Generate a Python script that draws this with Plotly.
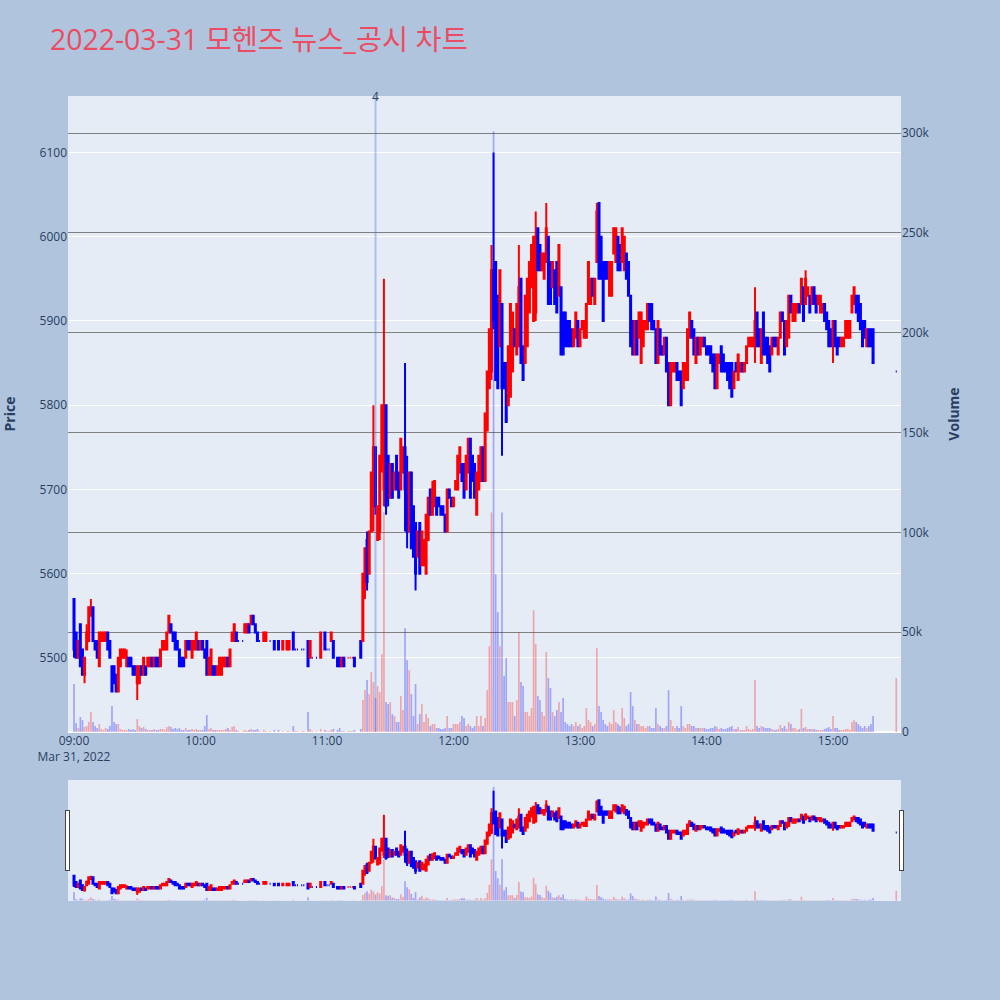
import plotly.graph_objects as go
from plotly.subplots import make_subplots

DATE = "2022-03-31"
TITLE = "2022-03-31 모헨즈 뉴스_공시 차트"

times = """
09:00 09:01 09:02 09:03 09:04 09:05 09:06 09:07 09:08 09:09
09:10 09:11 09:12 09:13 09:14 09:15 09:16 09:17 09:18 09:19
09:20 09:21 09:22 09:23 09:24 09:25 09:26 09:27 09:28 09:29
09:30 09:31 09:32 09:33 09:34 09:35 09:36 09:37 09:38 09:39
09:40 09:41 09:42 09:43 09:44 09:45 09:46 09:47 09:48 09:49
09:50 09:51 09:52 09:53 09:54 09:55 09:56 09:57 09:58 09:59
10:00 10:01 10:02 10:03 10:04 10:05 10:06 10:07 10:08 10:09
10:10 10:11 10:12 10:13 10:14 10:15 10:16 10:17 10:18
10:20 10:21 10:22 10:23 10:24 10:25 10:26 10:27 10:28 10:30 10:31 10:33 10:35
10:37 10:39 10:41 10:42 10:44 10:45 10:46 10:48 10:49 10:51
10:52 10:53 10:55 10:57 10:59 11:00 11:01 11:02 11:03 11:05
11:06 11:07 11:08 11:10 11:11 11:12 11:13 11:16
11:17 11:18 11:19 11:20 11:21 11:22 11:23 11:24 11:25 11:26
11:27 11:28 11:29 11:30 11:31 11:32 11:33 11:34 11:35 11:36
11:37 11:38 11:39 11:40 11:41 11:42 11:43 11:44 11:45 11:46
11:47 11:48 11:49 11:50 11:51 11:52 11:53 11:54 11:55 11:56
11:57 11:58 11:59 12:00 12:01 12:02 12:03 12:04 12:05 12:06
12:07 12:08 12:09 12:10 12:11 12:12 12:13 12:14 12:15 12:16
12:17 12:18 12:19 12:20 12:21 12:22 12:23 12:24 12:25 12:26
12:27 12:28 12:29 12:30 12:31 12:32 12:33 12:34 12:35 12:36
12:37 12:38 12:39 12:40 12:41 12:42 12:43 12:44 12:45 12:46
12:47 12:48 12:49 12:50 12:51 12:52 12:53 12:54 12:55 12:56
12:57 12:58 12:59 13:00 13:01 13:02 13:03 13:04 13:05 13:06
13:07 13:08 13:09 13:10 13:11 13:12 13:13 13:14 13:15 13:16
13:17 13:18 13:19 13:20 13:21 13:22 13:23 13:24 13:25 13:26
13:27 13:28 13:29 13:30 13:31 13:32 13:33 13:34 13:35 13:36
13:37 13:38 13:39 13:40 13:41 13:42 13:43 13:44 13:45 13:46
13:47 13:48 13:49 13:50 13:51 13:52 13:53 13:54 13:55 13:56
13:57 13:58 13:59 14:00 14:01 14:02 14:03 14:04 14:05 14:06
14:07 14:08 14:09 14:10 14:11 14:12 14:13 14:14 14:15 14:16
14:17 14:18 14:19 14:20 14:21 14:22 14:23 14:24 14:25 14:26
14:27 14:28 14:29 14:30 14:31 14:32 14:33 14:34 14:35 14:36
14:37 14:38 14:39 14:40 14:41 14:42 14:43 14:44 14:45 14:46
14:47 14:48 14:49 14:50 14:51 14:52 14:53 14:54 14:55 14:56
14:57 14:58 14:59 15:00 15:01 15:02 15:03 15:04 15:05 15:06
15:07 15:08 15:09 15:10 15:11 15:12 15:13 15:14 15:15 15:16
15:17 15:18 15:19 15:30
""".split()

opens = [
    5570, 5530, 5500, 5540, 5510, 5480, 5510, 5520, 5550, 5560,
    5520, 5520, 5490, 5520, 5520, 5520, 5530, 5520, 5490, 5490,
    5480, 5460, 5490, 5500, 5500, 5490, 5500, 5500, 5490, 5490,
    5470, 5470, 5490, 5480, 5490, 5490, 5490, 5500, 5490, 5500,
    5500, 5490, 5510, 5510, 5510, 5530, 5540, 5530, 5530, 5520,
    5510, 5500, 5500, 5500, 5520, 5520, 5500, 5510, 5510, 5520,
    5510, 5520, 5510, 5520, 5480, 5480, 5490, 5490, 5480, 5480,
    5480, 5490, 5490, 5500, 5490, 5520, 5520, 5530, 5520,
    5520, 5530, 5530, 5540, 5540, 5550, 5540, 5530, 5520, 5520, 5520, 5520, 5520,
    5520, 5510, 5510, 5510, 5530, 5510, 5510, 5510, 5510, 5520,
    5500, 5500, 5500, 5500, 5530, 5510, 5510, 5520, 5520, 5500,
    5500, 5490, 5500, 5500, 5500, 5500, 5500, 5520,
    5520, 5590, 5640, 5600, 5650, 5680, 5750, 5640, 5650, 5730,
    5700, 5800, 5740, 5690, 5730, 5700, 5740, 5720, 5700, 5720,
    5750, 5700, 5650, 5720, 5680, 5660, 5620, 5660, 5610, 5610,
    5600, 5640, 5700, 5670, 5680, 5690, 5690, 5680, 5680, 5670,
    5650, 5700, 5690, 5680, 5700, 5700, 5720, 5730, 5730, 5700,
    5720, 5760, 5740, 5730, 5670, 5700, 5710, 5750, 5710, 5770,
    5820, 5840, 5960, 5970, 5930, 5870, 5920, 5850, 5850, 5800,
    5810, 5840, 5890, 5860, 5870, 5950, 5870, 5850, 5870, 5910,
    5940, 5900, 5910, 6010, 5990, 5960, 5950, 5970, 6000, 5970,
    5940, 5960, 5970, 5930, 5940, 5910, 5910, 5900, 5900, 5890,
    5870, 5880, 5900, 5870, 5890, 5880, 5880, 5920, 5920, 5950,
    5920, 5970, 6040, 6000, 5970, 5970, 5970, 5930, 5930, 5980,
    5970, 6000, 5990, 5970, 5960, 5980, 5970, 5930, 5900, 5860,
    5900, 5880, 5850, 5870, 5890, 5890, 5920, 5920, 5900, 5890,
    5850, 5890, 5870, 5860, 5880, 5850, 5800, 5840, 5840, 5850,
    5840, 5840, 5820, 5830, 5830, 5880, 5900, 5890, 5850, 5880,
    5860, 5870, 5880, 5870, 5870, 5870, 5860, 5860, 5820, 5850,
    5870, 5860, 5850, 5850, 5850, 5850, 5820, 5850, 5830, 5840,
    5850, 5840, 5850, 5870, 5870, 5870, 5870, 5910, 5890, 5850,
    5910, 5880, 5880, 5870, 5860, 5880, 5880, 5860, 5880, 5910,
    5900, 5870, 5880, 5930, 5900, 5900, 5910, 5920, 5920, 5940,
    5920, 5930, 5930, 5920, 5940, 5930, 5920, 5910, 5910, 5920,
    5910, 5900, 5890, 5870, 5900, 5880, 5880, 5870, 5870, 5880,
    5880, 5880, 5910, 5920, 5930, 5930, 5920, 5900, 5900, 5870,
    5890, 5890, 5890, 5840,
]

highs = [
    5570, 5530, 5520, 5540, 5510, 5500, 5540, 5560, 5570, 5560,
    5520, 5520, 5530, 5530, 5530, 5530, 5530, 5520, 5490, 5490,
    5480, 5500, 5510, 5510, 5510, 5510, 5500, 5500, 5490, 5490,
    5490, 5490, 5490, 5500, 5490, 5500, 5500, 5500, 5500, 5500,
    5500, 5510, 5520, 5520, 5530, 5550, 5540, 5530, 5530, 5520,
    5510, 5500, 5500, 5520, 5520, 5520, 5520, 5520, 5530, 5520,
    5520, 5520, 5510, 5520, 5500, 5510, 5490, 5490, 5490, 5500,
    5500, 5500, 5500, 5500, 5510, 5530, 5540, 5530, 5520,
    5520, 5540, 5540, 5540, 5550, 5550, 5540, 5530, 5520, 5530, 5530, 5520, 5520,
    5520, 5520, 5520, 5520, 5530, 5510, 5510, 5510, 5510, 5520,
    5520, 5500, 5500, 5530, 5530, 5510, 5510, 5530, 5520, 5500,
    5500, 5500, 5500, 5500, 5500, 5500, 5500, 5520,
    5600, 5630, 5650, 5650, 5720, 5800, 5750, 5680, 5740, 5800,
    5950, 5800, 5740, 5730, 5730, 5720, 5740, 5720, 5760, 5750,
    5850, 5740, 5720, 5720, 5680, 5660, 5650, 5660, 5650, 5640,
    5670, 5690, 5700, 5710, 5710, 5690, 5690, 5680, 5680, 5670,
    5700, 5700, 5690, 5690, 5710, 5740, 5750, 5730, 5730, 5740,
    5760, 5760, 5740, 5730, 5720, 5740, 5750, 5750, 5790, 5840,
    5890, 5990, 6100, 5970, 5930, 5960, 5920, 5850, 5850, 5870,
    5920, 5910, 5890, 5920, 5990, 5950, 5870, 5930, 5950, 5970,
    5990, 6000, 6030, 6010, 5990, 5980, 5980, 6040, 6000, 5970,
    5970, 5960, 5970, 5990, 5940, 5910, 5910, 5900, 5900, 5890,
    5890, 5910, 5900, 5890, 5900, 5900, 5920, 5970, 5950, 5950,
    5950, 6040, 6040, 6000, 5970, 5970, 5970, 5970, 5970, 6010,
    6010, 6000, 5990, 6010, 6000, 5980, 5970, 5930, 5900, 5900,
    5900, 5910, 5910, 5900, 5900, 5920, 5920, 5920, 5900, 5890,
    5900, 5890, 5870, 5880, 5880, 5850, 5850, 5850, 5850, 5850,
    5840, 5840, 5850, 5850, 5890, 5910, 5900, 5890, 5880, 5880,
    5880, 5880, 5880, 5870, 5870, 5870, 5860, 5860, 5860, 5860,
    5870, 5860, 5850, 5850, 5850, 5850, 5840, 5850, 5860, 5850,
    5850, 5850, 5870, 5880, 5880, 5880, 5940, 5910, 5890, 5890,
    5910, 5880, 5880, 5870, 5880, 5880, 5880, 5880, 5910, 5910,
    5900, 5900, 5930, 5930, 5920, 5920, 5920, 5920, 5950, 5940,
    5960, 5940, 5930, 5940, 5940, 5930, 5930, 5930, 5920, 5920,
    5910, 5900, 5890, 5900, 5900, 5880, 5880, 5880, 5880, 5900,
    5900, 5900, 5930, 5940, 5930, 5930, 5920, 5900, 5900, 5890,
    5890, 5890, 5890, 5840,
]

lows = [
    5500, 5500, 5500, 5490, 5480, 5470, 5510, 5520, 5550, 5520,
    5510, 5500, 5490, 5520, 5520, 5520, 5510, 5500, 5460, 5470,
    5460, 5460, 5490, 5500, 5500, 5490, 5490, 5490, 5480, 5480,
    5450, 5470, 5480, 5480, 5480, 5490, 5490, 5490, 5490, 5490,
    5490, 5490, 5510, 5510, 5510, 5530, 5530, 5520, 5510, 5510,
    5490, 5490, 5490, 5500, 5510, 5510, 5500, 5510, 5510, 5510,
    5510, 5510, 5500, 5480, 5480, 5480, 5480, 5480, 5480, 5480,
    5480, 5490, 5490, 5490, 5490, 5520, 5520, 5520, 5520,
    5520, 5530, 5530, 5530, 5540, 5540, 5530, 5520, 5520, 5520, 5520, 5520, 5510,
    5510, 5510, 5510, 5510, 5510, 5510, 5510, 5510, 5510, 5490,
    5500, 5500, 5500, 5500, 5510, 5510, 5510, 5520, 5500, 5490,
    5490, 5490, 5490, 5500, 5500, 5500, 5490, 5500,
    5520, 5570, 5580, 5600, 5650, 5650, 5670, 5640, 5640, 5720,
    5680, 5670, 5680, 5690, 5690, 5700, 5700, 5690, 5700, 5720,
    5650, 5630, 5650, 5630, 5620, 5580, 5620, 5600, 5610, 5610,
    5600, 5640, 5670, 5670, 5680, 5670, 5680, 5670, 5670, 5650,
    5650, 5690, 5680, 5680, 5700, 5700, 5720, 5710, 5690, 5700,
    5720, 5690, 5710, 5690, 5670, 5700, 5710, 5710, 5710, 5770,
    5820, 5830, 5890, 5830, 5820, 5870, 5740, 5820, 5780, 5800,
    5810, 5840, 5870, 5860, 5870, 5850, 5830, 5850, 5870, 5910,
    5940, 5900, 5900, 5960, 5960, 5960, 5950, 5970, 5920, 5920,
    5940, 5920, 5910, 5930, 5860, 5860, 5870, 5870, 5870, 5870,
    5870, 5880, 5870, 5870, 5890, 5880, 5880, 5920, 5920, 5930,
    5920, 5970, 5950, 5950, 5900, 5950, 5950, 5930, 5930, 5980,
    5970, 5960, 5960, 5970, 5960, 5950, 5930, 5870, 5860, 5860,
    5860, 5880, 5850, 5870, 5890, 5890, 5900, 5890, 5890, 5850,
    5850, 5860, 5860, 5860, 5840, 5800, 5800, 5840, 5840, 5830,
    5830, 5800, 5820, 5830, 5830, 5880, 5880, 5860, 5850, 5860,
    5860, 5870, 5870, 5860, 5860, 5850, 5840, 5820, 5820, 5850,
    5840, 5840, 5840, 5830, 5820, 5810, 5820, 5840, 5830, 5840,
    5840, 5840, 5850, 5870, 5870, 5870, 5850, 5870, 5870, 5850,
    5860, 5860, 5850, 5840, 5860, 5870, 5870, 5860, 5880, 5900,
    5860, 5870, 5880, 5910, 5900, 5900, 5910, 5910, 5920, 5900,
    5920, 5930, 5910, 5920, 5920, 5910, 5920, 5910, 5910, 5900,
    5890, 5870, 5870, 5850, 5870, 5860, 5870, 5870, 5870, 5880,
    5880, 5880, 5910, 5920, 5910, 5900, 5890, 5870, 5880, 5870,
    5870, 5870, 5850, 5840,
]

closes = [
    5510, 5500, 5520, 5490, 5480, 5500, 5530, 5560, 5560, 5520,
    5510, 5500, 5530, 5530, 5530, 5530, 5510, 5500, 5460, 5470,
    5460, 5500, 5510, 5510, 5510, 5500, 5490, 5490, 5480, 5480,
    5490, 5490, 5480, 5500, 5480, 5500, 5500, 5490, 5500, 5490,
    5490, 5510, 5520, 5520, 5530, 5550, 5530, 5520, 5510, 5510,
    5490, 5490, 5490, 5520, 5510, 5510, 5520, 5520, 5530, 5510,
    5520, 5510, 5500, 5480, 5500, 5510, 5480, 5480, 5490, 5500,
    5500, 5500, 5500, 5490, 5510, 5530, 5540, 5520, 5520,
    5520, 5540, 5540, 5530, 5550, 5540, 5530, 5520, 5520, 5530, 5530, 5520, 5510,
    5510, 5520, 5520, 5520, 5510, 5510, 5510, 5510, 5510, 5490,
    5520, 5500, 5500, 5530, 5510, 5510, 5510, 5530, 5500, 5490,
    5490, 5500, 5490, 5500, 5500, 5500, 5490, 5500,
    5600, 5630, 5590, 5650, 5720, 5750, 5680, 5680, 5740, 5800,
    5800, 5680, 5690, 5730, 5690, 5720, 5700, 5690, 5760, 5750,
    5700, 5650, 5720, 5630, 5620, 5600, 5650, 5600, 5650, 5640,
    5670, 5690, 5670, 5700, 5710, 5670, 5680, 5670, 5670, 5650,
    5700, 5690, 5680, 5690, 5710, 5740, 5750, 5710, 5690, 5740,
    5760, 5690, 5710, 5690, 5720, 5740, 5750, 5710, 5790, 5840,
    5890, 5960, 5900, 5830, 5820, 5960, 5820, 5820, 5780, 5870,
    5920, 5910, 5870, 5920, 5940, 5850, 5830, 5930, 5950, 5970,
    5990, 6000, 6000, 5960, 5960, 5980, 5980, 6010, 5920, 5920,
    5970, 5920, 5910, 5990, 5860, 5860, 5870, 5870, 5870, 5870,
    5890, 5910, 5870, 5890, 5900, 5900, 5920, 5970, 5950, 5930,
    5950, 6030, 5950, 5950, 5900, 5950, 5950, 5970, 5970, 6010,
    6010, 5960, 5960, 6010, 6000, 5950, 5930, 5870, 5860, 5900,
    5860, 5910, 5910, 5900, 5900, 5920, 5900, 5890, 5890, 5850,
    5900, 5860, 5860, 5880, 5840, 5800, 5850, 5850, 5850, 5830,
    5830, 5800, 5850, 5850, 5890, 5910, 5880, 5860, 5880, 5860,
    5880, 5880, 5870, 5860, 5860, 5850, 5840, 5820, 5860, 5860,
    5840, 5840, 5840, 5830, 5820, 5810, 5840, 5840, 5860, 5850,
    5840, 5850, 5870, 5880, 5880, 5880, 5900, 5870, 5870, 5890,
    5860, 5860, 5850, 5840, 5880, 5870, 5870, 5880, 5910, 5900,
    5860, 5900, 5930, 5910, 5920, 5920, 5920, 5910, 5950, 5900,
    5950, 5940, 5910, 5940, 5920, 5910, 5930, 5930, 5920, 5900,
    5890, 5870, 5870, 5900, 5870, 5860, 5870, 5880, 5880, 5900,
    5900, 5900, 5930, 5940, 5910, 5900, 5890, 5870, 5880, 5890,
    5870, 5870, 5850, 5840,
]

volumes = [
    24000, 4500, 2000, 7500, 6000, 2500, 3000, 5000, 10000, 5000,
    3000, 2000, 4000, 1500, 1000, 2000, 1500, 3000, 13000, 5000,
    4000, 4000, 1500, 1000, 1000, 1000, 1500, 1000, 1500, 1000,
    6500, 3000, 2000, 2500, 1500, 1000, 1000, 1000, 1500, 1000,
    1000, 1500, 1500, 1000, 2500, 3000, 2500, 1500, 2000, 1500,
    2000, 1000, 1000, 2000, 1000, 1000, 1500, 1000, 1500, 1000,
    1000, 1000, 3000, 8500, 1500, 2000, 1000, 1000, 1000, 1000,
    1000, 1000, 1500, 2000, 1000, 2500, 3000, 1000, 500,
    500, 1000, 500, 1000, 1500, 1000, 1000, 1500, 500, 1000, 500, 500, 1000,
    1000, 500, 500, 500, 3000, 500, 500, 500, 500, 10000,
    1500, 500, 500, 1500, 1000, 500, 500, 1000, 1500, 1000,
    2000, 500, 500, 500, 500, 500, 1000, 1500,
    16000, 21000, 26000, 19000, 30000, 25000, 17000, 23000, 20000, 39000,
    110000, 15000, 14000, 15000, 9000, 8000, 5000, 5000, 18000, 11000,
    52000, 36000, 31000, 19000, 8000, 24000, 4000, 9000, 14000, 5000,
    9000, 7000, 3000, 4000, 4000, 2000, 2000, 1500, 1500, 2000,
    8000, 2000, 2000, 4000, 4000, 4000, 5000, 8000, 7000, 3000,
    4000, 3000, 2000, 3000, 8000, 3000, 8000, 3000, 7000, 21000,
    43000, 110000, 301000, 79000, 60000, 43000, 110000, 28000, 37000, 15000,
    15000, 15000, 8000, 16000, 50000, 25000, 23000, 10000, 10000, 8000,
    12000, 61000, 44000, 18000, 16000, 10000, 8000, 40000, 27000, 22000,
    10000, 8000, 11000, 15000, 10000, 17000, 5000, 4000, 3000, 4000,
    3000, 5000, 3000, 4000, 2000, 3000, 12000, 6000, 5000, 3000,
    4000, 42000, 13000, 10000, 6000, 4000, 3000, 5000, 4000, 11000,
    5000, 4000, 3000, 12000, 7000, 3000, 4000, 20000, 13000, 6000,
    4000, 4000, 3000, 3000, 2000, 3000, 3000, 2000, 2000, 12000,
    4000, 3000, 2000, 2000, 3000, 21000, 6000, 3000, 2000, 3000,
    2000, 13000, 3000, 2000, 4000, 4000, 3000, 3000, 2000, 2000,
    2000, 2000, 2000, 1500, 1500, 2000, 2000, 3000, 2500, 1500,
    2000, 1500, 1500, 2000, 2500, 3000, 1500, 1500, 2500, 1000,
    1000, 1000, 3000, 1500, 1000, 1500, 26000, 3000, 2000, 3000,
    2500, 2000, 2000, 2000, 1500, 1000, 1000, 1500, 3500, 2000,
    3000, 1500, 5000, 4000, 2000, 2000, 1000, 1500, 11500, 2000,
    2500, 1500, 1500, 1500, 1500, 1000, 1000, 1000, 1000, 1500,
    2000, 2500, 1500, 8000, 2000, 2000, 1000, 1000, 1000, 1500,
    1500, 1000, 5000, 6000, 5000, 4000, 3000, 2000, 3000, 2000,
    3000, 4000, 8000, 27000,
]

news_time = "11:23"
news_label = "4"
x_range = ["2022-03-31 08:57:09", "2022-03-31 15:32:15"]
price_range = [5412, 6167]
volume_range = [0, 318600]

n = len(times)
assert all(len(a) == n for a in (opens, highs, lows, closes, volumes)), [len(a) for a in (times, opens, highs, lows, closes, volumes)]

x = [f"{DATE} {t}:00" for t in times]
vol_colors = ["rgba(255,0,0,0.3)" if c >= o else "rgba(0,0,255,0.3)" for o, c in zip(opens, closes)]

fig = make_subplots(specs=[[{"secondary_y": True}]])

fig.add_trace(
    go.Bar(x=x, y=volumes, marker=dict(color=vol_colors, line=dict(width=0)), name="Volume", showlegend=False),
    secondary_y=True,
)
fig.add_trace(
    go.Candlestick(
        x=x, open=opens, high=highs, low=lows, close=closes,
        increasing=dict(line=dict(color="red"), fillcolor="red"),
        decreasing=dict(line=dict(color="blue"), fillcolor="blue"),
        name="Price", showlegend=False,
    ),
    secondary_y=False,
)

news_x = f"{DATE} {news_time}:00"
fig.add_shape(type="line", xref="x", yref="paper", x0=news_x, x1=news_x, y0=0, y1=1,
              line=dict(color="rgba(65,105,225,0.35)", width=2))
fig.add_annotation(x=news_x, y=1, xref="x", yref="paper", text=news_label, showarrow=False,
                   yanchor="middle", font=dict(size=12, color="#2a3f5f"))

fig.update_layout(
    width=1000, height=1000,
    paper_bgcolor="#B0C4DE",
    plot_bgcolor="#E5ECF6",
    showlegend=False,
    title=dict(text=TITLE, x=0.05, xanchor="left", y=0.96, yanchor="middle",
               font=dict(size=28.4, color="#EC4C62", family="Open Sans, Noto Sans CJK KR")),
    margin=dict(l=68, r=99, t=96, b=100),
    xaxis=dict(domain=[0, 1], type="date", range=x_range,
               rangeslider=dict(visible=True, thickness=0.15, range=x_range)),
    yaxis=dict(title=dict(text="Price", font=dict(size=14, weight="bold"), standoff=20),
               range=price_range, automargin=False),
    yaxis2=dict(title=dict(text="Volume", font=dict(size=14, weight="bold"), standoff=20),
                range=volume_range, showgrid=True, gridcolor="grey", automargin=False),
)

fig.write_html("out.html", config={"displayModeBar": False},
               post_script="document.body.style.margin='0';")
